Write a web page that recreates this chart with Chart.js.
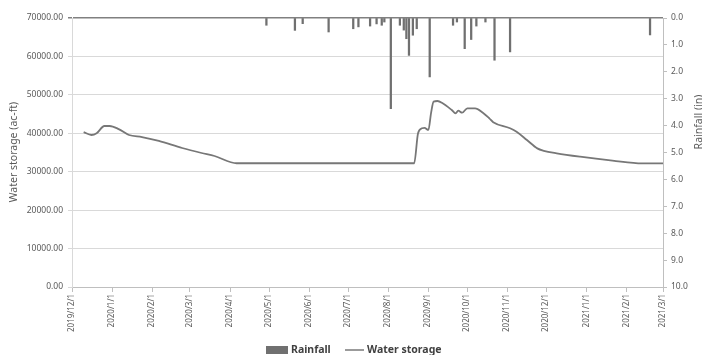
<!DOCTYPE html>
<html>
<head>
<meta charset="utf-8">
<script src="https://cdn.jsdelivr.net/npm/chart.js@4/dist/chart.umd.min.js"></script>
<style>
  html, body { margin: 0; padding: 0; background: #fff; }
  #chart { display: block; }
</style>
</head>
<body>
<canvas id="chart" width="702" height="355"></canvas>
<script>
// month tick labels on the x axis
const monthTicks = ['2019/12/1', '2020/1/1', '2020/2/1', '2020/3/1', '2020/4/1', '2020/5/1',
  '2020/6/1', '2020/7/1', '2020/8/1', '2020/9/1', '2020/10/1', '2020/11/1', '2020/12/1',
  '2021/1/1', '2021/2/1', '2021/3/1'];

// water storage (ac-ft)
const storageDates = ['2019/12/10', '2019/12/16', '2019/12/20', '2019/12/26', '2019/12/30',
  '2020/1/6', '2020/1/14', '2020/1/24', '2020/2/6', '2020/2/24', '2020/3/10', '2020/3/20',
  '2020/4/6', '2020/8/21', '2020/8/24', '2020/8/27', '2020/8/29', '2020/9/1', '2020/9/3',
  '2020/9/5', '2020/9/8', '2020/9/12', '2020/9/19', '2020/9/22', '2020/9/24', '2020/9/27',
  '2020/10/1', '2020/10/7', '2020/10/13', '2020/10/18', '2020/10/21', '2020/11/3',
  '2020/11/8', '2020/11/16', '2020/11/24', '2020/11/29', '2020/12/9', '2020/12/27',
  '2021/1/21', '2021/2/13', '2021/3/1'];
const storageValues = [40300, 39550, 40000, 41900, 41900,
  41100, 39550, 39030, 38000, 36170, 34870, 34090,
  32200, 32200, 40000, 41300, 41400, 40870, 45200,
  48240, 48400, 47800, 46060, 45200, 45880, 45360,
  46500, 46500, 45360, 43900, 42900, 41300,
  40400, 38250, 36080, 35450, 34780, 33900,
  32900, 32170, 32170];

// daily rainfall (in)
const rainDates = ['2020/4/29', '2020/5/21', '2020/5/27', '2020/6/16', '2020/7/5', '2020/7/9',
  '2020/7/18', '2020/7/23', '2020/7/27', '2020/7/29', '2020/8/3', '2020/8/10', '2020/8/13',
  '2020/8/15', '2020/8/17', '2020/8/20', '2020/8/23', '2020/9/2', '2020/9/20', '2020/9/23',
  '2020/9/29', '2020/10/4', '2020/10/8', '2020/10/15', '2020/10/22', '2020/11/3', '2021/2/19'];
const rainValues = [0.27, 0.46, 0.21, 0.52, 0.40, 0.33,
  0.30, 0.22, 0.27, 0.15, 3.37, 0.27, 0.45,
  0.77, 1.39, 0.64, 0.40, 2.19, 0.27, 0.15,
  1.14, 0.80, 0.30, 0.15, 1.57, 1.26, 0.63];

const storageTicks = [0, 10000, 20000, 30000, 40000, 50000, 60000, 70000];
const rainTicks = [0, 1, 2, 3, 4, 5, 6, 7, 8, 9, 10];

const origin = Date.UTC(2019, 11, 1);
function dayNum(s) {
  const p = s.split('/').map(Number);
  return (Date.UTC(p[0], p[1] - 1, p[2]) - origin) / 86400000;
}

const tickFont = { family: 'Noto Sans', size: 8.5 };
const textColor = '#595959';

// axis titles, rotated month labels and the legend
const extras = {
  id: 'extras',
  afterDraw(chart) {
    const ctx = chart.ctx;
    const xs = chart.scales.x;
    const top = chart.chartArea.bottom + 7;
    ctx.save();
    ctx.fillStyle = textColor;

    ctx.font = '8px "Noto Sans"';
    ctx.textAlign = 'right';
    ctx.textBaseline = 'middle';
    monthTicks.forEach(t => {
      ctx.save();
      ctx.translate(Math.round(xs.getPixelForValue(dayNum(t))), top);
      ctx.rotate(-Math.PI / 2);
      ctx.fillText(t, 0, 0);
      ctx.restore();
    });

    ctx.font = '10.5px "Noto Sans"';
    ctx.textAlign = 'center';
    ctx.save();
    ctx.translate(14, 152);
    ctx.rotate(-Math.PI / 2);
    ctx.textBaseline = 'middle';
    ctx.fillText('Water storage (ac-ft)', 0, 0);
    ctx.restore();

    ctx.save();
    ctx.translate(694, 122);
    ctx.rotate(-Math.PI / 2);
    ctx.textBaseline = 'top';
    ctx.fillText('Rainfall (in)', 0, 0);
    ctx.restore();

    ctx.fillStyle = '#707070';
    ctx.fillRect(266, 346, 22, 8);
    ctx.strokeStyle = '#7a7a7a';
    ctx.lineWidth = 1.5;
    ctx.beginPath();
    ctx.moveTo(345, 350);
    ctx.lineTo(364, 350);
    ctx.stroke();
    ctx.fillStyle = '#404040';
    ctx.font = 'bold 10.5px "Noto Sans"';
    ctx.textAlign = 'left';
    ctx.textBaseline = 'middle';
    ctx.fillText('Rainfall', 291, 350);
    ctx.fillText('Water storage', 367, 350);
    ctx.restore();
  }
};

new Chart(document.getElementById('chart'), {
  type: 'bar',
  data: {
    datasets: [
      {
        type: 'line',
        label: 'Water storage',
        data: storageDates.map((d, i) => ({ x: dayNum(d), y: storageValues[i] })),
        yAxisID: 'y',
        borderColor: '#777777',
        borderWidth: 1.8,
        pointRadius: 0,
        cubicInterpolationMode: 'monotone',
        order: 1
      },
      {
        type: 'bar',
        label: 'Rainfall',
        data: rainDates.map((d, i) => ({ x: dayNum(d), y: rainValues[i] })),
        yAxisID: 'y2',
        backgroundColor: '#707070',
        barThickness: 1.6,
        grouped: false,
        order: 2
      }
    ]
  },
  options: {
    responsive: false,
    devicePixelRatio: 1,
    animation: false,
    layout: { padding: { top: 18, left: 0, right: 0, bottom: 0 } },
    plugins: { legend: { display: false }, tooltip: { enabled: false } },
    scales: {
      x: {
        type: 'linear',
        offset: false,
        min: 0,
        max: dayNum('2021/3/1'),
        afterBuildTicks: (axis) => { axis.ticks = monthTicks.map(t => ({ value: dayNum(t) })); },
        afterFit: (axis) => { axis.height = 68; },
        ticks: { display: false },
        grid: { drawOnChartArea: false, offset: false, color: '#bfbfbf', tickLength: 5 },
        border: { color: '#bfbfbf' }
      },
      y: {
        position: 'left',
        min: 0,
        max: 70000,
        afterBuildTicks: (axis) => { axis.ticks = storageTicks.map(v => ({ value: v })); },
        afterFit: (axis) => { axis.width = 72; },
        ticks: {
          padding: 5,
          color: textColor,
          font: tickFont,
          callback: (v) => Number(v).toFixed(2)
        },
        grid: {
          color: (c) => c.tick && c.tick.value === 70000 ? '#808080' : '#d9d9d9',
          lineWidth: (c) => c.tick && c.tick.value === 70000 ? 1.5 : 1,
          tickLength: 4
        },
        border: { color: '#d9d9d9' }
      },
      y2: {
        position: 'right',
        reverse: true,
        min: 0,
        max: 10,
        afterBuildTicks: (axis) => { axis.ticks = rainTicks.map(v => ({ value: v })); },
        afterFit: (axis) => { axis.width = 39; },
        ticks: {
          padding: 4,
          color: textColor,
          font: tickFont,
          callback: (v) => Number(v).toFixed(1)
        },
        grid: { drawOnChartArea: false, color: '#bfbfbf', tickLength: 4 },
        border: { color: '#bfbfbf' }
      }
    }
  },
  plugins: [extras]
});
</script>
</body>
</html>
